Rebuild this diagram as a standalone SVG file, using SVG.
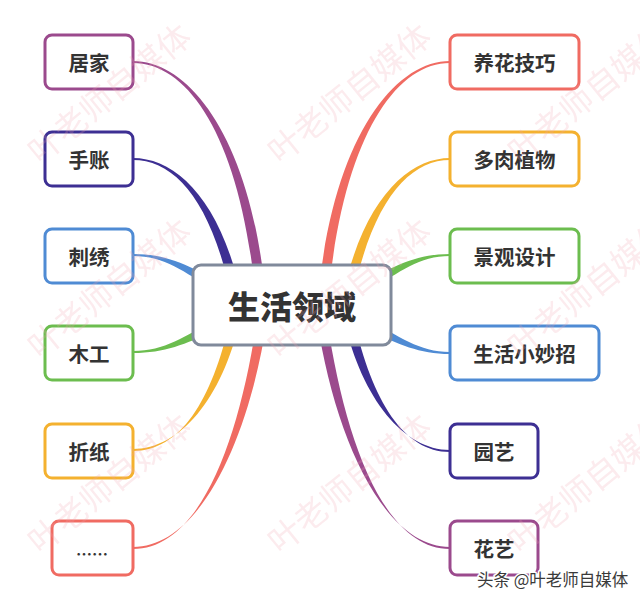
<svg xmlns="http://www.w3.org/2000/svg" width="640" height="602" viewBox="0 0 640 602">
<style>
.node rect{fill:#fff;stroke-width:3}
.lbl{font-family:"Noto Sans CJK SC","Noto Sans",sans-serif;font-weight:700;font-size:20.5px;fill:#333;text-anchor:middle;dominant-baseline:central}
.root{font-size:32px;font-weight:900}
.wm{font-family:"Noto Sans CJK SC",sans-serif;font-size:33px;fill:#f0a6b0;opacity:0.22}
.credit{font-family:"Noto Sans CJK SC",sans-serif;font-size:16.5px;fill:#3a3a3a;stroke:#fff;stroke-width:3;paint-order:stroke;stroke-linejoin:round}
</style>
<rect width="640" height="602" fill="#fff"/>
<g id="connectors">
<path fill="#9b4a8d" d="M133,61 C190,61 250,139 265,290 L255,290 C240,141 190,63 133,63 Z"/>
<path fill="#3d2f93" d="M133,158 C175,158 222,199 242,300 L232,300 C212,201 175,160 133,160 Z"/>
<path fill="#4f8bd4" d="M133,254 C165,254 186,264 216,280 L214,290 C184,272 165,256 133,256 Z"/>
<path fill="#6cbd4f" d="M133,351 C165,351 185,336 215,320 L215,331 C185,344 165,353 133,353 Z"/>
<path fill="#f4b12f" d="M133,449 C180,449 222,399 240,320 L230,320 C212,401 180,451 133,451 Z"/>
<path fill="#f06b62" d="M133,547 C200,547 249,439 267,320 L257,320 C239,441 200,549 133,549 Z"/>
<path fill="#f06b62" d="M450,61 C394,61 334,139 319,290 L329,290 C344,141 394,63 450,63 Z"/>
<path fill="#f4b12f" d="M450,158 C409,158 362,199 342,300 L352,300 C372,201 409,160 450,160 Z"/>
<path fill="#6cbd4f" d="M450,254 C419,254 398,264 368,280 L370,290 C400,272 419,256 450,256 Z"/>
<path fill="#4f8bd4" d="M450,352 C419,352 399,336 369,320 L369,331 C399,344 419,354 450,354 Z"/>
<path fill="#3d2f93" d="M450,450 C404,450 362,399 344,320 L354,320 C372,401 404,452 450,452 Z"/>
<path fill="#9b4a8d" d="M450,547 C384,547 335,439 317,320 L327,320 C345,441 384,549 450,549 Z"/>
</g>
<g id="root" class="node"><rect x="193" y="265" width="198" height="80" rx="8" style="stroke:#808a9b"/><text class="lbl root" x="292" y="305">生活领域</text></g>
<g id="n-jujia" class="node"><rect x="45" y="35" width="88" height="54" rx="7" style="stroke:#9b4a8d"/><text class="lbl" x="89" y="62">居家</text></g>
<g id="n-shouzhang" class="node"><rect x="45" y="132" width="88" height="54" rx="7" style="stroke:#3d2f93"/><text class="lbl" x="89" y="159">手账</text></g>
<g id="n-cixiu" class="node"><rect x="45" y="229" width="88" height="54" rx="7" style="stroke:#4f8bd4"/><text class="lbl" x="89" y="256">刺绣</text></g>
<g id="n-mugong" class="node"><rect x="45" y="326" width="88" height="54" rx="7" style="stroke:#6cbd4f"/><text class="lbl" x="89" y="353">木工</text></g>
<g id="n-zhezhi" class="node"><rect x="45" y="424" width="88" height="54" rx="7" style="stroke:#f4b12f"/><text class="lbl" x="89" y="451">折纸</text></g>
<g id="n-more" class="node"><rect x="52" y="521" width="81" height="54" rx="7" style="stroke:#f06b62"/><text class="lbl" x="92" y="553" style="font-size:16px;font-weight:700">……</text></g>
<g id="n-yanghua" class="node"><rect x="450" y="35" width="129" height="54" rx="7" style="stroke:#f06b62"/><text class="lbl" x="514.5" y="62">养花技巧</text></g>
<g id="n-duorou" class="node"><rect x="450" y="132" width="129" height="54" rx="7" style="stroke:#f4b12f"/><text class="lbl" x="514.5" y="159">多肉植物</text></g>
<g id="n-jingguan" class="node"><rect x="450" y="229" width="129" height="54" rx="7" style="stroke:#6cbd4f"/><text class="lbl" x="514.5" y="256">景观设计</text></g>
<g id="n-miaozhao" class="node"><rect x="450" y="326" width="149" height="54" rx="7" style="stroke:#4f8bd4"/><text class="lbl" x="524.5" y="353">生活小妙招</text></g>
<g id="n-yuanyi" class="node"><rect x="450" y="424" width="88" height="54" rx="7" style="stroke:#3d2f93"/><text class="lbl" x="494" y="451">园艺</text></g>
<g id="n-huayi" class="node"><rect x="450" y="521" width="88" height="54" rx="7" style="stroke:#9b4a8d"/><text class="lbl" x="494" y="548">花艺</text></g>
<g id="watermark" class="wm">
<text x="40" y="165" transform="rotate(-39 40 165)">叶老师自媒体</text>
<text x="280" y="165" transform="rotate(-39 280 165)">叶老师自媒体</text>
<text x="520" y="165" transform="rotate(-39 520 165)">叶老师自媒体</text>
<text x="40" y="360" transform="rotate(-39 40 360)">叶老师自媒体</text>
<text x="280" y="360" transform="rotate(-39 280 360)">叶老师自媒体</text>
<text x="520" y="360" transform="rotate(-39 520 360)">叶老师自媒体</text>
<text x="40" y="555" transform="rotate(-39 40 555)">叶老师自媒体</text>
<text x="280" y="555" transform="rotate(-39 280 555)">叶老师自媒体</text>
<text x="520" y="555" transform="rotate(-39 520 555)">叶老师自媒体</text>
</g>
<text class="credit" x="477" y="586">头条 @叶老师自媒体</text>
</svg>
